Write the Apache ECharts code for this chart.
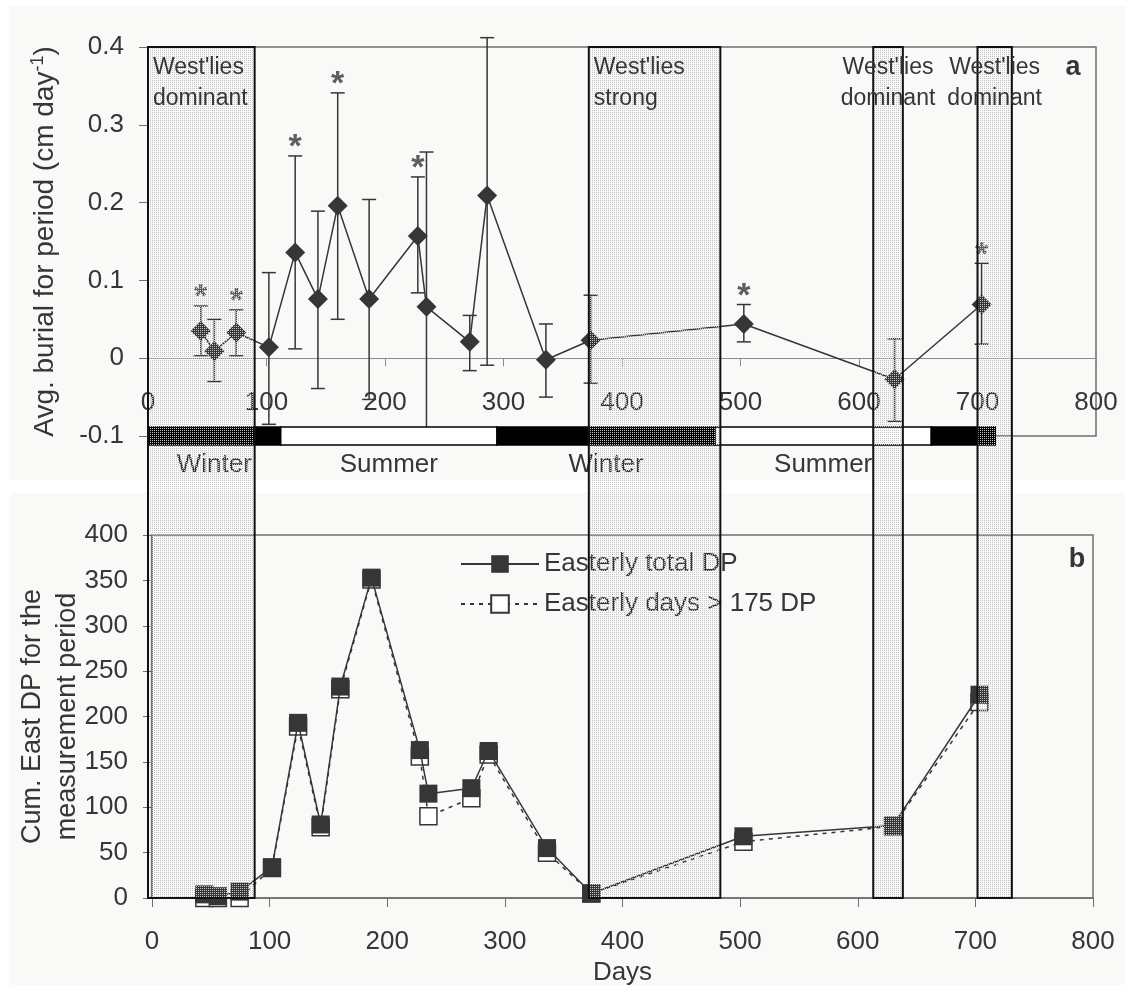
<!DOCTYPE html>
<html>
<head>
<meta charset="utf-8">
<script src="https://cdn.jsdelivr.net/npm/echarts@6/dist/echarts.min.js"></script>
<style>
html, body { margin: 0; padding: 0; background: #ffffff; }
#chart { width: 1135px; height: 989px; }
</style>
</head>
<body>
<div id="chart"></div>
<script>
// Measurement periods (days since start)
const days = [44.5, 56, 74.5, 102, 124.2, 143.4, 160.1, 186.6, 227.7, 235, 271.5, 286.2, 335.8, 373.5, 502.8, 630, 703.5];

// Panel a: average burial per period (cm/day) with error limits
const burial   = [0.035, 0.009, 0.033, 0.014, 0.136, 0.076, 0.196, 0.076, 0.157, 0.066, 0.021, 0.209, -0.002, 0.023, 0.044, -0.027, 0.069];
const burialHi = [0.067, 0.050, 0.062, 0.110, 0.260, 0.189, 0.341, 0.204, 0.233, 0.265, 0.055, 0.412, 0.044, 0.081, 0.069, 0.025, 0.122];
const burialLo = [0.003, -0.030, 0.003, -0.085, 0.012, -0.039, 0.050, -0.053, 0.084, -0.100, -0.016, -0.009, -0.050, -0.032, 0.021, -0.081, 0.018];
const significant = [1, 0, 1, 0, 1, 0, 1, 0, 1, 0, 0, 0, 0, 0, 1, 0, 1];

// Panel b: cumulative easterly drift potential
const totalDP = [4, 2, 7, 34, 193, 81, 233, 353, 163, 115, 121, 162, 55, 5, 68, 80, 224];
const days175 = [0, 0, 0, 33, 189, 78, 230, 351, 156, 90, 110, 158, 50, 5, 62, 79, 216];

// Seasons along the bottom of panel a
const seasonStart = [0, 112, 294.5, 478.5, 661];
const seasonEnd   = [112, 294.5, 478.5, 661, 715];
const seasonKind  = ['Winter', 'Summer', 'Winter', 'Summer', 'Winter'];
const seasonLabel = ['Winter', 'Summer', 'Winter', 'Summer', ''];

// Periods of westerly dominance
const westStart = [0, 372, 612, 700];
const westEnd   = [90, 483, 637, 729];
const westText  = ["West'lies\ndominant", "West'lies\nstrong", "West'lies\ndominant", "West'lies\ndominant"];

const FONT = "'Liberation Sans', Arial, Helvetica, sans-serif";
const INK = '#363636';
const AXIS = '#6e6e6e';

const chart = echarts.init(document.getElementById('chart'));

const axisLabelStyle = { fontSize: 26, color: INK, fontFamily: FONT };

// Panel a plot height, used to lift its x axis onto the zero line
const gridATop = 47, gridABottom = 553;
const plotAHeight = 989 - gridATop - gridABottom;
const zeroLift = plotAHeight * (0 - (-0.1)) / (0.4 - (-0.1));

chart.setOption({
  animation: false,
  textStyle: { fontFamily: FONT, color: INK },
  grid: [
    { left: 148, right: 39, top: gridATop, bottom: gridABottom, show: true, borderColor: AXIS, borderWidth: 1.5, backgroundColor: 'transparent', outerBoundsMode: 'none' },
    { left: 152, right: 42, top: 535, bottom: 91, show: true, borderColor: AXIS, borderWidth: 1.5, backgroundColor: 'transparent', outerBoundsMode: 'none' }
  ],
  xAxis: [
    {
      type: 'value', gridIndex: 0, min: 0, max: 800, interval: 100,
      offset: -zeroLift,
      axisLine: { show: true, onZero: false, lineStyle: { color: '#8c8c8c', width: 1.2 } },
      axisTick: { show: true, length: 8, lineStyle: { color: '#8c8c8c' } },
      axisLabel: Object.assign({ margin: 32 }, axisLabelStyle),
      splitLine: { show: false }
    },
    {
      type: 'value', gridIndex: 1, min: 0, max: 800, interval: 100,
      axisLine: { show: true, lineStyle: { color: AXIS, width: 1.5 } },
      axisTick: { show: true, length: 9, lineStyle: { color: AXIS } },
      axisLabel: Object.assign({ margin: 31 }, axisLabelStyle),
      splitLine: { show: false },
      name: 'Days', nameLocation: 'middle', nameGap: 62, nameMoveOverlap: false,
      nameTextStyle: { fontSize: 26, color: INK, fontFamily: FONT }
    }
  ],
  yAxis: [
    {
      type: 'value', gridIndex: 0, min: -0.1, max: 0.4, interval: 0.1,
      axisLine: { show: true, lineStyle: { color: AXIS, width: 1.5 } },
      axisTick: { show: true, length: 9, lineStyle: { color: AXIS } },
      axisLabel: Object.assign({ margin: 24, formatter: v => String(Math.round(v * 10) / 10) }, axisLabelStyle),
      splitLine: { show: false },
      name: 'Avg. burial for period (cm day{sup|-1})',
      nameLocation: 'middle', nameRotate: 90, nameGap: 86, nameMoveOverlap: false,
      nameTextStyle: {
        fontSize: 28, color: INK, fontFamily: FONT,
        rich: { sup: { fontSize: 18, color: INK, fontFamily: FONT, padding: [0, 0, 15, 0] } }
      }
    },
    {
      type: 'value', gridIndex: 1, min: 0, max: 400, interval: 50,
      axisLine: { show: true, lineStyle: { color: AXIS, width: 1.5 } },
      axisTick: { show: true, length: 9, lineStyle: { color: AXIS } },
      axisLabel: Object.assign({ margin: 24 }, axisLabelStyle),
      splitLine: { show: false },
      name: 'Cum. East DP for the\nmeasurement period',
      nameLocation: 'middle', nameRotate: 90, nameGap: 67, nameMoveOverlap: false,
      nameTextStyle: { fontSize: 27, color: INK, fontFamily: FONT, lineHeight: 35 }
    }
  ],
  legend: {
    data: ['Easterly total DP', 'Easterly days > 175 DP'],
    orient: 'vertical', left: 455, top: 546,
    itemWidth: 78, itemHeight: 22, itemGap: 14,
    textStyle: { fontSize: 26, color: INK, fontFamily: FONT },
    selectedMode: false
  },
  series: [
    // error bars of panel a
    {
      type: 'custom', name: 'range', xAxisIndex: 0, yAxisIndex: 0, z: 3, clip: false, silent: true,
      data: days.map((d, i) => [d, burialLo[i], burialHi[i]]),
      encode: { x: 0, y: [1, 2] },
      renderItem: function (params, api) {
        const lo = api.coord([api.value(0), api.value(1)]);
        const hi = api.coord([api.value(0), api.value(2)]);
        const w = 7;
        const st = { stroke: INK, lineWidth: 1.5 };
        return {
          type: 'group',
          children: [
            { type: 'line', shape: { x1: hi[0], y1: hi[1], x2: lo[0], y2: lo[1] }, style: st },
            { type: 'line', shape: { x1: hi[0] - w, y1: hi[1], x2: hi[0] + w, y2: hi[1] }, style: st },
            { type: 'line', shape: { x1: lo[0] - w, y1: lo[1], x2: lo[0] + w, y2: lo[1] }, style: st }
          ]
        };
      }
    },
    // burial rate
    {
      type: 'line', name: 'burial', xAxisIndex: 0, yAxisIndex: 0, z: 4,
      data: days.map((d, i) => [d, burial[i]]),
      symbol: 'diamond', symbolSize: 20,
      itemStyle: { color: INK },
      lineStyle: { color: INK, width: 1.5 }
    },
    // significance markers
    {
      type: 'scatter', name: 'sig', xAxisIndex: 0, yAxisIndex: 0, z: 5, silent: true,
      data: days.map((d, i) => [d, burialHi[i]]).filter((p, i) => significant[i]),
      symbolSize: 1, itemStyle: { color: 'rgba(0,0,0,0)' },
      label: { show: true, formatter: '*', position: 'inside', offset: [0, -8], fontSize: 34, fontWeight: 'bold', color: INK, fontFamily: FONT }
    },
    // season bar
    {
      type: 'custom', name: 'seasons', xAxisIndex: 0, yAxisIndex: 0, z: 6, clip: false, silent: true,
      data: seasonStart.map((s, i) => [s, seasonEnd[i], i]),
      encode: { x: [0, 1] },
      renderItem: function (params, api) {
        const i = api.value(2);
        const a = api.coord([api.value(0), -0.1]);
        const b = api.coord([api.value(1), -0.1]);
        const h = 18;
        const winter = seasonKind[i] === 'Winter';
        return {
          type: 'group',
          children: [
            { type: 'rect', shape: { x: a[0], y: a[1] - h / 2, width: b[0] - a[0], height: h },
              style: { fill: winter ? '#000000' : '#ffffff', stroke: '#000000', lineWidth: 1.5 } },
            { type: 'text', style: { text: seasonLabel[i], x: (a[0] + b[0]) / 2, y: a[1] + h / 2 + 7,
              align: 'center', verticalAlign: 'top', fontSize: 26, fill: INK, fontFamily: FONT } }
          ]
        };
      }
    },
    // panel b
    {
      type: 'line', name: 'Easterly days > 175 DP', xAxisIndex: 1, yAxisIndex: 1, z: 3,
      data: days.map((d, i) => [d, days175[i]]),
      symbol: 'rect', symbolSize: 17,
      itemStyle: { color: '#ffffff', borderColor: INK, borderWidth: 1.5 },
      lineStyle: { color: INK, width: 1.5, type: [4, 5] }
    },
    {
      type: 'line', name: 'Easterly total DP', xAxisIndex: 1, yAxisIndex: 1, z: 4,
      data: days.map((d, i) => [d, totalDP[i]]),
      symbol: 'rect', symbolSize: 18,
      itemStyle: { color: INK },
      lineStyle: { color: INK, width: 1.5 }
    }
  ]
});

// Fine stipple used for the westerly bands
function stipple() {
  const c = document.createElement('canvas');
  c.width = 2; c.height = 2;
  const g = c.getContext('2d');
  g.fillStyle = 'rgb(196,196,196)';
  g.fillRect(0, 0, 1, 1);
  return c;
}

// Panel backgrounds, westerly bands spanning both panels, and panel letters
const xPix = d => chart.convertToPixel({ xAxisIndex: 0 }, d);
const bandTop = chart.convertToPixel({ yAxisIndex: 0 }, 0.4);
const bandBottom = chart.convertToPixel({ yAxisIndex: 1 }, 0);
const bandFill = { image: stipple(), repeat: 'repeat' };

const graphics = [
  { type: 'rect', z: -10, shape: { x: 10, y: 6, width: 1115, height: 474 }, style: { fill: '#f9f9f7' } },
  { type: 'rect', z: -10, shape: { x: 10, y: 493, width: 1115, height: 492 }, style: { fill: '#f9f9f7' } }
];

westStart.forEach((s, i) => {
  const x0 = xPix(s), x1 = xPix(westEnd[i]);
  graphics.push({
    type: 'rect', z: 50, silent: true,
    shape: { x: x0, y: bandTop, width: x1 - x0, height: bandBottom - bandTop },
    style: { fill: bandFill, stroke: '#111111', lineWidth: 2 }
  });
  const narrow = (x1 - x0) < 60;
  graphics.push({
    type: 'text', z: 51, silent: true,
    style: {
      text: westText[i],
      x: narrow ? (x0 + x1) / 2 : x0 + 5,
      y: bandTop + 5,
      align: narrow ? 'center' : 'left', verticalAlign: 'top',
      fontSize: 23, lineHeight: 31, fill: INK, fontFamily: FONT
    }
  });
});

const gA = chart.convertToPixel({ xAxisIndex: 0, yAxisIndex: 0 }, [800, 0.4]);
const gB = chart.convertToPixel({ xAxisIndex: 1, yAxisIndex: 1 }, [800, 400]);
graphics.push({ type: 'text', z: 51, style: { text: 'a', x: gA[0] - 23, y: gA[1] + 21, align: 'center', verticalAlign: 'middle', fontSize: 27, fontWeight: 'bold', fill: INK, fontFamily: FONT } });
graphics.push({ type: 'text', z: 51, style: { text: 'b', x: gB[0] - 16, y: gB[1] + 25, align: 'center', verticalAlign: 'middle', fontSize: 27, fontWeight: 'bold', fill: INK, fontFamily: FONT } });

chart.setOption({ graphic: graphics });
</script>
</body>
</html>
